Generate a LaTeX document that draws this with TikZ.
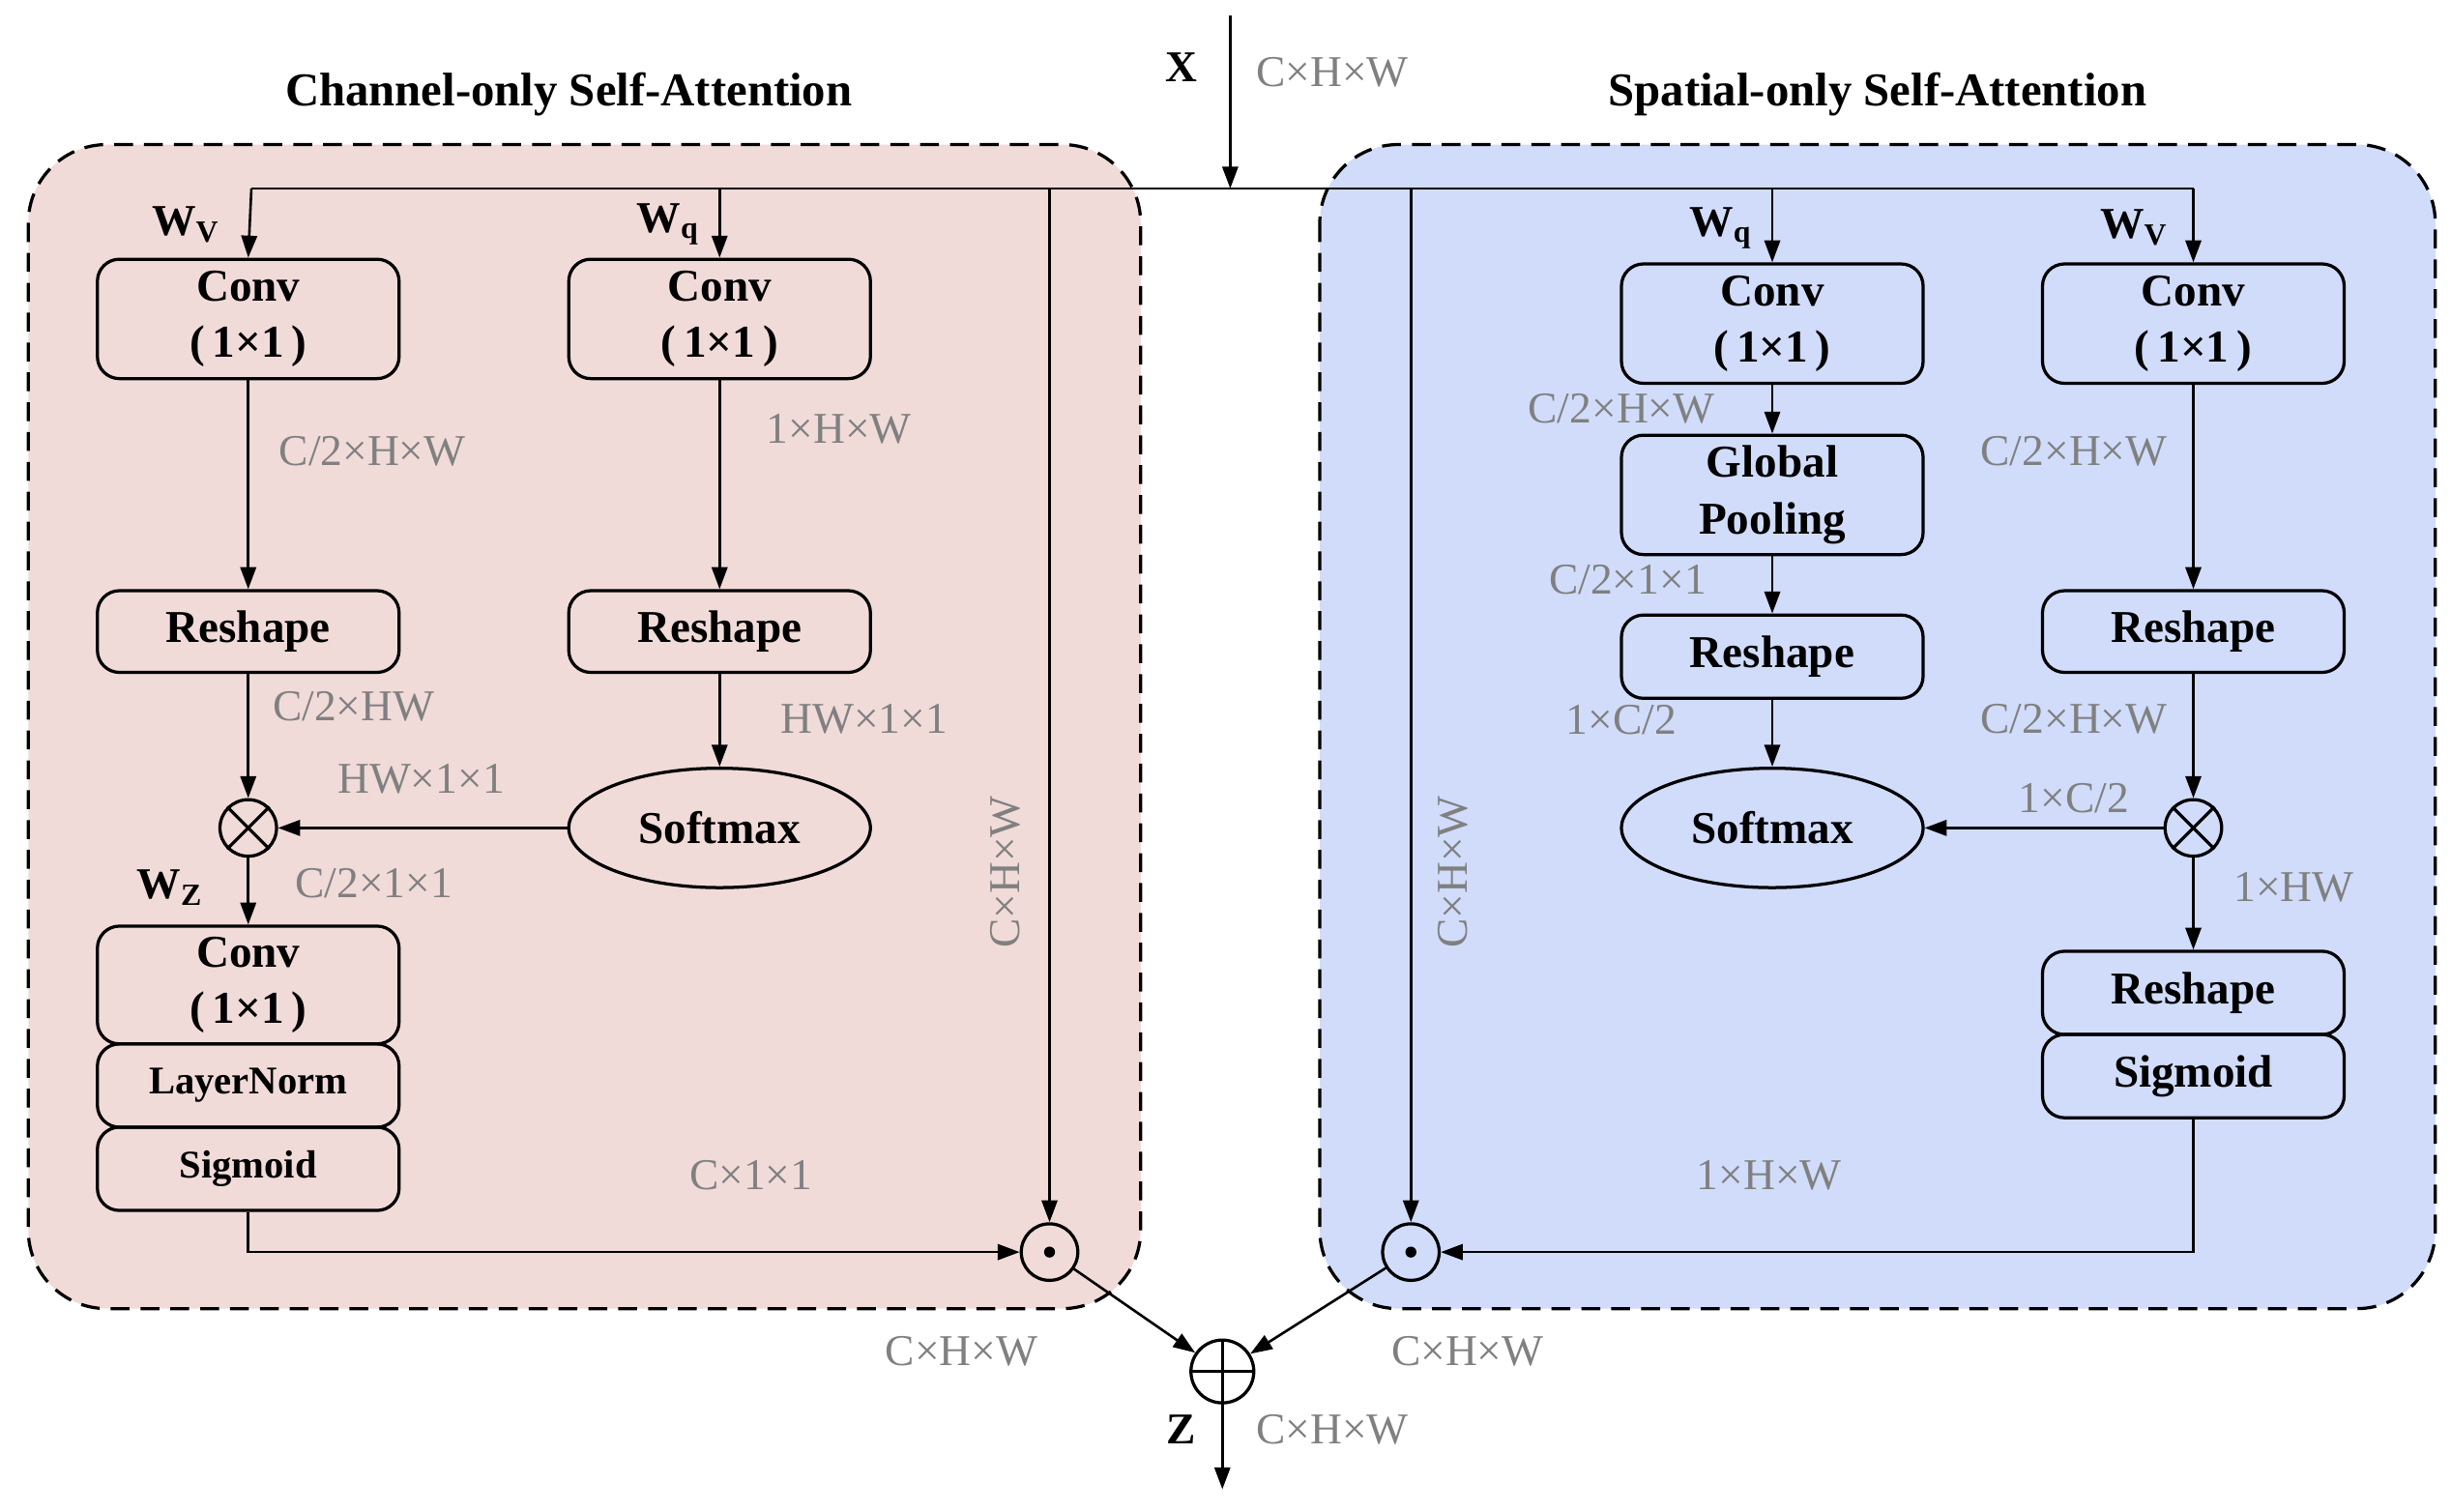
\documentclass[tikz,border=0pt]{standalone}
\usepackage{fontspec}
\setmainfont{Liberation Serif}
\usetikzlibrary{arrows.meta,shapes.geometric}
\definecolor{pinkbg}{RGB}{240,219,217}
\definecolor{bluebg}{RGB}{208,220,250}
\definecolor{lab}{RGB}{128,128,128}
\begin{document}
\begin{tikzpicture}[x=1pt,y=-1pt,
  every node/.style={font=\fontsize{28}{30}\selectfont},
  box/.style={draw,line width=2pt,rounded corners=14pt,minimum width=192pt,align=center,inner sep=0pt,font=\fontsize{29}{36}\selectfont\bfseries},
  ell/.style={draw,line width=2pt,ellipse,minimum width=192pt,minimum height=76pt,font=\fontsize{29}{30}\selectfont\bfseries},
  op/.style={draw,line width=2pt,circle,minimum size=36pt,inner sep=0pt},
  lbl/.style={text=lab,inner sep=1pt},
  wl/.style={font=\fontsize{28}{30}\selectfont\bfseries},
  ttl/.style={font=\fontsize{30}{32}\selectfont\bfseries},
  ln/.style={line width=1.6pt},
  ar/.style={ln,-{Triangle[length=14pt,width=10pt]}},
  panel/.style={draw,line width=2pt,dash pattern=on 12pt off 7pt,rounded corners=50pt}]
\useasboundingbox (0,0) rectangle (1560,962);
\path[panel,fill=pinkbg] (18,92) rectangle (726,833);
\path[panel,fill=bluebg] (840,92) rectangle (1550,833);
\node[ttl] at (362,60) {Channel-only Self-Attention};
\node[ttl] at (1195,60) {Spatial-only Self-Attention};
\node[wl] at (752,43) {X};
\node[lbl] at (848,46) {C×H×W};
% left boxes
\node[box,minimum height=76pt] (c1) at (158,203) {Conv\\(\,1×1\,)};
\node[box,minimum height=52pt] (r1) at (158,402) {Reshape};
\node[op] (m1) at (158,527) {};
\draw[line width=2pt] (m1.north west)--(m1.south east) (m1.north east)--(m1.south west);
\node[box,minimum height=75pt] (c3) at (158,627) {Conv\\(\,1×1\,)};
\node[box,minimum height=53pt,font=\fontsize{25}{30}\selectfont\bfseries] (ln1) at (158,691) {LayerNorm};
\node[box,minimum height=53pt,font=\fontsize{25}{30}\selectfont\bfseries] (sg1) at (158,744) {Sigmoid};
\node[box,minimum height=76pt] (c2) at (458,203) {Conv\\(\,1×1\,)};
\node[box,minimum height=52pt] (r2) at (458,402) {Reshape};
\node[ell] (s1) at (458,527) {Softmax};
\node[op] (d1) at (668,797) {};
\fill (d1) circle (3.5pt);
% right boxes
\node[box,minimum height=76pt] (c4) at (1128,206) {Conv\\(\,1×1\,)};
\node[box,minimum height=76pt] (gp) at (1128,315) {Global\\Pooling};
\node[box,minimum height=53pt] (r4) at (1128,418) {Reshape};
\node[ell] (s2) at (1128,527) {Softmax};
\node[box,minimum height=76pt] (c5) at (1396,206) {Conv\\(\,1×1\,)};
\node[box,minimum height=52pt] (r5) at (1396,402) {Reshape};
\node[op] (m2) at (1396,527) {};
\draw[line width=2pt] (m2.north west)--(m2.south east) (m2.north east)--(m2.south west);
\node[box,minimum height=53pt] (r6) at (1396,632) {Reshape};
\node[box,minimum height=53pt] (sg2) at (1396,685) {Sigmoid};
\node[op] (d2) at (898,797) {};
\fill (d2) circle (3.5pt);
\node[op,minimum size=40pt] (pl) at (778,873) {};
\draw[line width=2pt] (pl.north)--(pl.south) (pl.west)--(pl.east);
% connectors
\coordinate (xin) at (783,10);
\coordinate (xj) at (783,120);
\draw[ar] (xin)--(xj);
\draw[ln] (160,120)--(1396,120);
\draw[ar] (160,120)--(c1.north);
\draw[ar] (458,120)--(c2.north);
\draw[ar] (668,120)--(d1.north);
\draw[ar] (898,120)--(d2.north);
\draw[ar] (1128,120)--(c4.north);
\draw[ar] (1396,120)--(c5.north);
\draw[ar] (c1)--(r1);
\draw[ar] (r1)--(m1);
\draw[ar] (m1)--(c3);
\draw[ar] (c2)--(r2);
\draw[ar] (r2)--(s1);
\draw[ar] (s1)--(m1);
\draw[ar] (sg1.south)|-(d1.west);
\draw[ar] (c4)--(gp);
\draw[ar] (gp)--(r4);
\draw[ar] (r4)--(s2);
\draw[ar] (c5)--(r5);
\draw[ar] (r5)--(m2);
\draw[ar] (m2)--(s2);
\draw[ar] (m2)--(r6);
\draw[ar] (sg2.south)|-(d2.east);
\draw[ar] (d1)--(pl);
\draw[ar] (d2)--(pl);
\coordinate (zout) at (778,948);
\draw[ar] (pl)--(zout);
% labels
\node[wl] at (118,143) {W\textsubscript{V}};
\node[wl] at (425,143) {W\textsubscript{q}};
\node[wl] at (108,565) {W\textsubscript{Z}};
\node[wl] at (1095,145) {W\textsubscript{q}};
\node[wl] at (1358,145) {W\textsubscript{V}};
\node[lbl] at (237,287) {C/2×H×W};
\node[lbl] at (534,273) {1×H×W};
\node[lbl] at (225,450) {C/2×HW};
\node[lbl] at (550,458) {HW×1×1};
\node[lbl] at (268,496) {HW×1×1};
\node[lbl] at (238,562) {C/2×1×1};
\node[lbl,rotate=90] at (640,555) {C×H×W};
\node[lbl] at (478,748) {C×1×1};
\node[lbl] at (1032,260) {C/2×H×W};
\node[lbl] at (1320,287) {C/2×H×W};
\node[lbl] at (1036,369) {C/2×1×1};
\node[lbl] at (1032,458) {1×C/2};
\node[lbl] at (1320,458) {C/2×H×W};
\node[lbl] at (1320,508) {1×C/2};
\node[lbl] at (1460,565) {1×HW};
\node[lbl,rotate=90] at (925,555) {C×H×W};
\node[lbl] at (1126,748) {1×H×W};
\node[lbl] at (612,860) {C×H×W};
\node[lbl] at (934,860) {C×H×W};
\node[wl] at (752,910) {Z};
\node[lbl] at (848,910) {C×H×W};
\end{tikzpicture}
\end{document}
